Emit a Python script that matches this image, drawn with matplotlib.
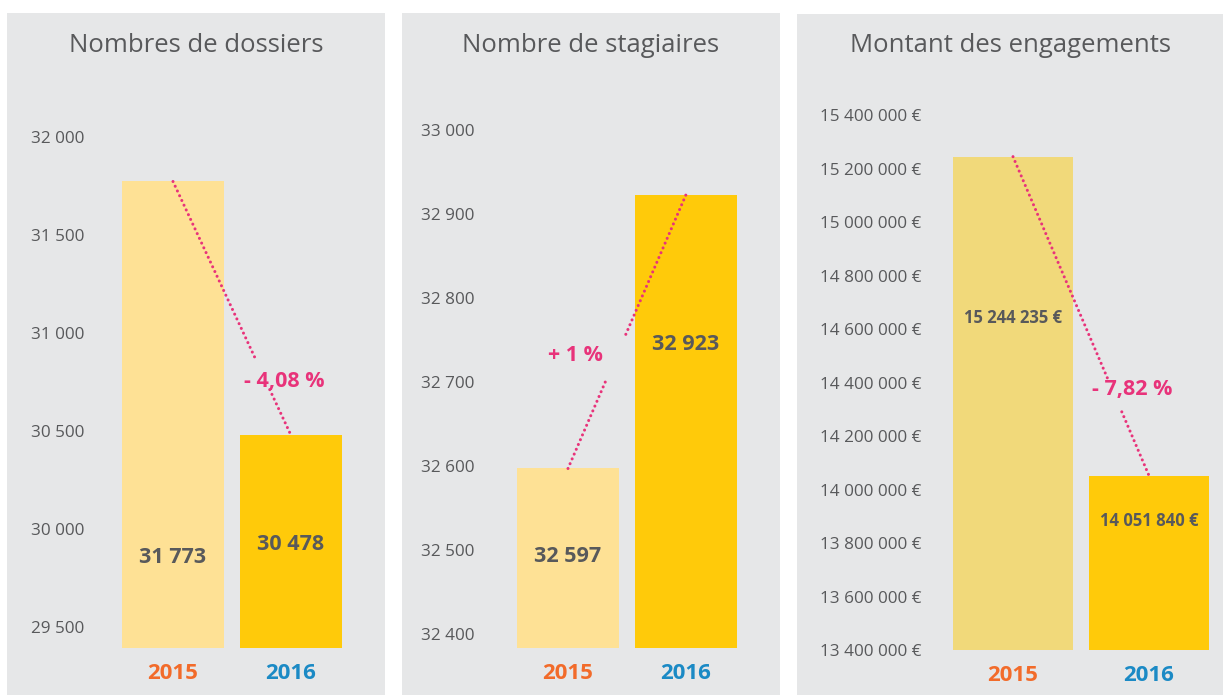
import matplotlib
matplotlib.use('Agg')
import matplotlib.pyplot as plt
from matplotlib.patches import Rectangle

# data
years = ['2015', '2016']
titles = ['Nombres de dossiers', 'Nombre de stagiaires', 'Montant des engagements']
dossiers = [31773, 30478]
stagiaires = [32597, 32923]
engagements = [15244235, 14051840]
variations = ['- 4,08 %', '+ 1 %', '- 7,82 %']
ticks_dossiers = [29500, 30000, 30500, 31000, 31500, 32000]
ticks_stagiaires = [32400, 32500, 32600, 32700, 32800, 32900, 33000]
ticks_engagements = [13400000, 13600000, 13800000, 14000000, 14200000,
                     14400000, 14600000, 14800000, 15000000, 15200000, 15400000]

W, H = 1225, 695
BG = '#e6e7e8'
GREY = '#58595b'
PINK = '#e8337a'
YEAR_COLORS = ['#f26b2a', '#1b8ac5']

plt.rcParams['font.family'] = ['Open Sans', 'DejaVu Sans']


def fmt(v, suffix=''):
    return '{:,}'.format(int(v)).replace(',', ' ') + suffix


fig = plt.figure(figsize=(W / 100, H / 100), dpi=100)
fig.patch.set_facecolor('white')

# panel backgrounds (pixels: left, top, right, bottom)
panels = [(7, 13, 385, 695), (402, 13, 780, 695), (797, 14, 1223, 695)]
for (l, t, r, b) in panels:
    fig.patches.append(Rectangle((l / W, 1 - b / H), (r - l) / W, (b - t) / H,
                                 transform=fig.transFigure, facecolor=BG,
                                 edgecolor='none', zorder=-5))

# layout per panel
configs = [
    dict(values=dossiers, ticks=ticks_dossiers, suffix='', box=(100, 100, 370, 648),
         centers=(173, 291), barw=102, ylim=(29392.9, 32188.8), pad=11.5,
         colors=['#fee195', '#ffca0a'], vfs=15.5, lab_y=[29857, 29923],
         var_xy=(0.94, 30755), brk=(0.70, 0.82)),
    dict(values=stagiaires, ticks=ticks_stagiaires, suffix='', box=(490, 100, 770, 648),
         centers=(568, 686), barw=102, ylim=(32383.3, 33035.7), pad=11.5,
         colors=['#fee195', '#ffca0a'], vfs=15.5, lab_y=[32491.7, 32745.2],
         var_xy=(0.06, 32731), brk=(0.32, 0.49)),
    dict(values=engagements, ticks=ticks_engagements, suffix=' €', box=(935, 90, 1215, 650),
         centers=(1013, 1149), barw=120, ylim=(13400000, 15493458), pad=10,
         colors=['#f1d97a', '#ffca0a'], vfs=12, lab_y=[14641121, 13882243],
         var_xy=(0.88, 14375700), brk=(0.70, 0.80)),
]

for i, c in enumerate(configs):
    l, t, r, b = c['box']
    ax = fig.add_axes([l / W, 1 - b / H, (r - l) / W, (b - t) / H])
    ax.set_facecolor('none')
    step = c['centers'][1] - c['centers'][0]
    ax.set_xlim(-(c['centers'][0] - l) / step, 1 + (r - c['centers'][1]) / step)
    ylo, yhi = c['ylim']
    ax.set_ylim(ylo, yhi)

    vals = c['values']
    xs = list(range(len(vals)))
    ax.bar(xs, [v - ylo for v in vals], bottom=ylo, width=c['barw'] / step,
           color=c['colors'], zorder=2)

    # value labels inside bars
    for x, v, ly in zip(xs, vals, c['lab_y']):
        ax.text(x, ly, fmt(v, c['suffix']), ha='center', va='center',
                fontsize=c['vfs'], fontweight='bold', color=GREY, zorder=4)

    # dotted trend line, broken around the percentage label
    t1, t2 = c['brk']
    x0, y0, x1, y1 = xs[0], vals[0], xs[1], vals[1]
    for a, bb in [(0, t1), (t2, 1)]:
        ax.plot([x0 + a * (x1 - x0), x0 + bb * (x1 - x0)],
                [y0 + a * (y1 - y0), y0 + bb * (y1 - y0)],
                color=PINK, lw=2.2, dashes=(0.01, 1.7), dash_capstyle='round',
                zorder=3)
    ax.text(c['var_xy'][0], c['var_xy'][1], variations[i], ha='center', va='center',
            fontsize=15.5, fontweight='bold', color=PINK, zorder=4)

    ax.set_yticks(c['ticks'])
    ax.set_yticklabels([fmt(v, c['suffix']) for v in c['ticks']])
    ax.set_xticks(xs)
    ax.set_xticklabels(years)
    ax.tick_params(axis='y', length=0, pad=c['pad'], labelsize=12.3, labelcolor=GREY)
    ax.tick_params(axis='x', length=0, pad=11, labelsize=16)
    for lbl, col in zip(ax.get_xticklabels(), YEAR_COLORS):
        lbl.set_color(col)
        lbl.set_fontweight('bold')
    for s in ax.spines.values():
        s.set_visible(False)

    pl, pt, pr, pb = panels[i]
    fig.text((pl + pr) / 2 / W, 1 - 46 / H, titles[i], ha='center', va='center',
             fontsize=18.5, color=GREY)

fig.savefig('out.png', dpi=100, facecolor=fig.get_facecolor())
